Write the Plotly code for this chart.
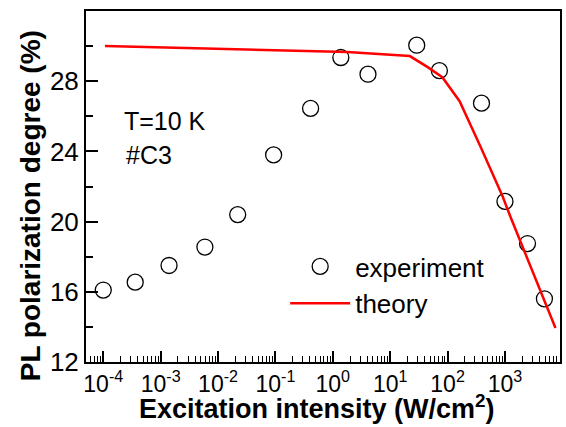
import numpy as np
import plotly.graph_objects as go

# experimental data
exp_x = [1.0e-4, 3.6e-4, 1.4e-3, 5.9e-3, 2.2e-2, 9.3e-2, 0.41, 1.38, 4.1, 29, 72, 390, 1000, 2470, 4870]
exp_y = [16.1, 16.55, 17.5, 18.55, 20.4, 23.8, 26.45, 29.35, 28.4, 30.05, 28.6, 26.75, 21.15, 18.75, 15.6]

# theory curve
th_x = [1.07e-4, 1.8, 22, 45, 81, 162, 372, 912, 1260, 7590]
th_y = [30.0, 29.66, 29.43, 28.8, 28.23, 26.86, 24.29, 21.43, 20.23, 13.94]

x_tickvals = [1e-4, 1e-3, 1e-2, 1e-1, 1e0, 1e1, 1e2, 1e3]
x_ticktext = ["10<sup>-4</sup>", "10<sup>-3</sup>", "10<sup>-2</sup>", "10<sup>-1</sup>",
              "10<sup>0</sup>", "10<sup>1</sup>", "10<sup>2</sup>", "10<sup>3</sup>"]
y_tickvals = [12, 16, 20, 24, 28]

FONT = "Liberation Sans, Arial, sans-serif"
L, R, T, B = 86, 4, 11, 65
W, H = 566, 427
pw, ph = W - L - R, H - T - B


def px2paper(px, py):
    return (px - L) / pw, 1 - (py - T) / ph


fig = go.Figure()
fig.add_trace(go.Scatter(
    x=exp_x, y=exp_y, mode="markers", name="experiment",
    marker=dict(symbol="circle-open", size=16, color="black", line=dict(width=1.3, color="black")),
))
fig.add_trace(go.Scatter(
    x=th_x, y=th_y, mode="lines", name="theory",
    line=dict(color="#ff0000", width=2.5),
))

anns = []
for txt, px, py in [("T=10 K", 122, 120.5), ("#C3", 124, 155)]:
    ax, ay = px2paper(px, py)
    anns.append(dict(text=txt, x=ax, y=ay, xref="paper", yref="paper", xanchor="left", yanchor="middle",
                     showarrow=False, font=dict(size=25, family=FONT)))
# axis titles
ax, ay = px2paper(318, 426)
anns.append(dict(text="<b>Excitation intensity (W/cm<sup>2</sup>)</b>", x=ax, y=ay, xref="paper", yref="paper",
                 xanchor="center", yanchor="bottom", showarrow=False, font=dict(size=27, family=FONT)))
ax, ay = px2paper(30, 206)
anns.append(dict(text="<b>PL polarization degree (%)</b>", x=ax, y=ay, xref="paper", yref="paper",
                 xanchor="center", yanchor="middle", textangle=-90, showarrow=False,
                 font=dict(size=28, family=FONT)))

lx, ly = px2paper(286, 243)
fig.update_layout(
    width=W, height=H,
    margin=dict(l=L, r=R, t=T, b=B),
    paper_bgcolor="white", plot_bgcolor="white",
    font=dict(family=FONT, color="black", size=22),
    showlegend=True,
    legend=dict(x=lx, y=ly, xanchor="left", yanchor="top",
                bgcolor="rgba(0,0,0,0)", font=dict(size=26),
                itemwidth=60, tracegroupgap=0),
    annotations=anns,
)

fig.update_xaxes(
    type="log", range=[np.log10(5.0e-5), np.log10(9.1e3)],
    showline=True, linewidth=2, linecolor="black", mirror=True,
    ticks="inside", ticklen=11, tickwidth=1.5, tickcolor="black",
    tickvals=x_tickvals, ticktext=x_ticktext, tickfont=dict(size=23),
    showgrid=False, zeroline=False,
    minor=dict(ticks="inside", ticklen=6, tickwidth=1.3, tickcolor="black", dtick="D1", showgrid=False),
)
fig.update_yaxes(
    range=[12, 32], showline=True, linewidth=2, linecolor="black", mirror=True,
    ticks="inside", ticklen=12, tickwidth=1.5, tickcolor="black",
    tickvals=y_tickvals, tickfont=dict(size=26), showgrid=False, zeroline=False,
    minor=dict(ticks="inside", ticklen=7, tickwidth=1.5, tickcolor="black", dtick=2, showgrid=False),
)

fig.write_html("out.html")
